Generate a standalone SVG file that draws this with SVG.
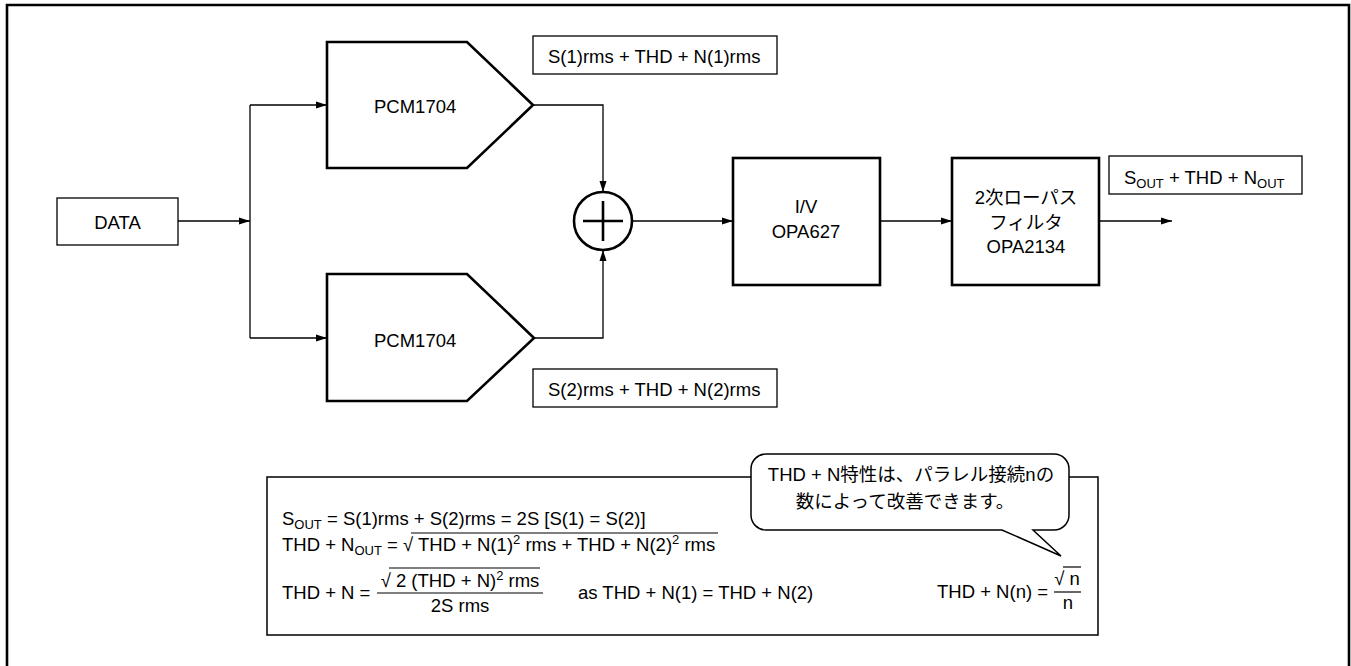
<svg xmlns="http://www.w3.org/2000/svg" width="1351" height="666" viewBox="0 0 1351 666">
<defs>
<marker id="arr" markerUnits="userSpaceOnUse" markerWidth="11" markerHeight="8" refX="11" refY="4" orient="auto">
<path d="M0,0.5 L11,4 L0,7.5 z" fill="#000"/>
</marker>
<style>
text{font-family:"Liberation Sans",Arial,"Noto Sans CJK JP",sans-serif;font-size:18.5px;fill:#000}
.jp{font-family:"Noto Sans CJK JP","Liberation Sans",sans-serif}
.b{font-size:18.5px}
.c{text-anchor:middle}
.thick{fill:#fff;stroke:#000;stroke-width:2.6}
.thin{fill:#fff;stroke:#000;stroke-width:1.3}
.conn{fill:none;stroke:#000;stroke-width:1.3}
.sub{font-size:13px}
.sup{font-size:13px}
.ol{stroke:#000;stroke-width:1.2}
</style>
</defs>
<rect width="1351" height="666" fill="#fff"/>
<path d="M7,670 V5 H1349 V670" fill="none" stroke="#000" stroke-width="2.6"/>

<g id="connectors">
<line class="conn" x1="178" y1="221" x2="250" y2="221" marker-end="url(#arr)"/>
<line class="conn" x1="250" y1="105" x2="250" y2="338"/>
<line class="conn" x1="250" y1="105" x2="327" y2="105" marker-end="url(#arr)"/>
<line class="conn" x1="250" y1="338" x2="327" y2="338" marker-end="url(#arr)"/>
<polyline class="conn" points="533,105 603,105 603,192" marker-end="url(#arr)"/>
<polyline class="conn" points="534,338 603,338 603,250" marker-end="url(#arr)"/>
<line class="conn" x1="632" y1="221" x2="733" y2="221" marker-end="url(#arr)"/>
<line class="conn" x1="880" y1="221" x2="952" y2="221" marker-end="url(#arr)"/>
<line class="conn" x1="1099" y1="221" x2="1172" y2="221" marker-end="url(#arr)"/>
</g>

<g id="data">
<rect class="thin" x="57" y="198" width="121" height="47"/>
<text class="c" x="117.5" y="229">DATA</text>
</g>

<g id="pcm1">
<polygon class="thick" points="327,42 467,42 533,105 467,168 327,168"/>
<text x="374" y="113">PCM1704</text>
</g>

<g id="pcm2">
<polygon class="thick" points="327,274 467,274 534,338 467,401 327,401"/>
<text x="374" y="347">PCM1704</text>
</g>

<g id="label1">
<rect class="thin" x="533" y="36" width="244" height="38"/>
<text x="548" y="63">S(1)rms + THD + N(1)rms</text>
</g>

<g id="label2">
<rect class="thin" x="533" y="369" width="244" height="38"/>
<text x="548" y="396">S(2)rms + THD + N(2)rms</text>
</g>

<g id="sum">
<circle class="thick" cx="603" cy="221" r="29"/>
<line x1="583" y1="221" x2="623" y2="221" stroke="#000" stroke-width="2.6"/>
<line x1="603" y1="201" x2="603" y2="241" stroke="#000" stroke-width="2.6"/>
</g>

<g id="iv">
<rect class="thick" x="733" y="158" width="147" height="127"/>
<text class="c" x="806" y="213">I/V</text>
<text class="c" x="806" y="238">OPA627</text>
</g>

<g id="filter">
<rect class="thick" x="952" y="158" width="147" height="127"/>
<text class="c" x="1026" y="204">2<tspan class="jp">次ローパス</tspan></text>
<text class="c jp" x="1026" y="229">フィルタ</text>
<text class="c" x="1026" y="253">OPA2134</text>
</g>

<g id="outlabel">
<rect class="thin" x="1109" y="156" width="193" height="38"/>
<text x="1124" y="184">S<tspan class="sub" dy="4">OUT</tspan><tspan dy="-4"> + THD + N</tspan><tspan class="sub" dy="4">OUT</tspan></text>
</g>

<g id="formulas">
<rect x="267" y="477" width="831" height="158" fill="#fff" stroke="#000" stroke-width="1.5"/>
<text x="282" y="525">S<tspan class="sub" dy="4">OUT</tspan><tspan dy="-4"> = S(1)rms + S(2)rms = 2S [S(1) = S(2)]</tspan></text>
<text x="282" y="551">THD + N<tspan class="sub" dy="4">OUT</tspan><tspan dy="-4"> = √ THD + N(1)</tspan><tspan class="sup" dy="-7">2</tspan><tspan dy="7"> rms + THD + N(2)</tspan><tspan class="sup" dy="-7">2</tspan><tspan dy="7"> rms</tspan></text>
<line class="ol" x1="411" y1="533" x2="718" y2="533"/>
<text x="282" y="599">THD + N =</text>
<text class="c" x="460" y="587">√ 2 (THD + N)<tspan class="sup" dy="-7">2</tspan><tspan dy="7"> rms</tspan></text>
<line class="ol" x1="389" y1="568" x2="540" y2="568"/>
<line class="ol" x1="377" y1="593" x2="543" y2="593"/>
<text class="c" x="460" y="612">2S rms</text>
<text x="578" y="599">as THD + N(1) = THD + N(2)</text>
<text x="937" y="598">THD + N(n) =</text>
<text class="c" x="1067" y="585">√ n</text>
<line class="ol" x1="1063" y1="567" x2="1081" y2="567"/>
<line class="ol" x1="1054" y1="592" x2="1081" y2="592"/>
<text class="c" x="1068" y="609">n</text>
</g>

<g id="bubble">
<path d="M766,454 H1054 A15,15 0 0 1 1069,469 V515 A15,15 0 0 1 1054,530 H1033 L1061,556 L1002,530 H766 A15,15 0 0 1 751,515 V469 A15,15 0 0 1 766,454 Z" fill="#fff" stroke="#000" stroke-width="1.5"/>
<text class="b c" x="911" y="481">THD + N<tspan class="jp">特性は、パラレル接続</tspan>n<tspan class="jp">の</tspan></text>
<text class="b c jp" x="905" y="508">数によって改善できます。</text>
</g>
</svg>
